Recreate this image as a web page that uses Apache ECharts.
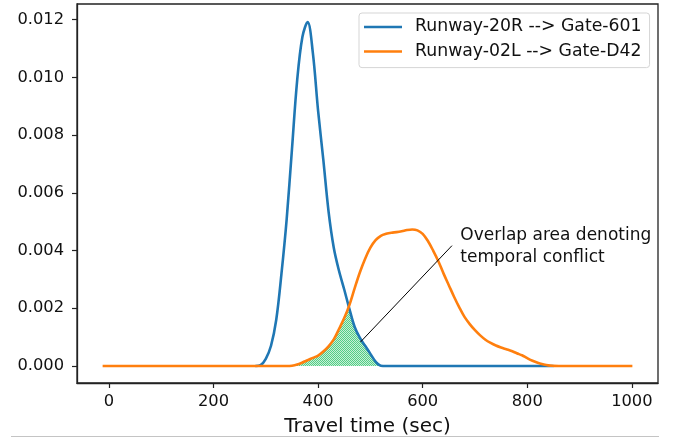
<!DOCTYPE html>
<html>
<head>
<meta charset="utf-8">
<script src="https://cdn.jsdelivr.net/npm/echarts@6/dist/echarts.min.js"></script>
<style>html,body{margin:0;padding:0;background:#fff}#c{width:681px;height:440px}</style>
</head>
<body>
<div id="c"></div>
<script>
// ---- data ----
const seriesNames = ['Runway-20R --> Gate-601', 'Runway-02L --> Gate-D42'];
const blueX = [280,290,300,310,320,330,340,350,360,370,380,390,400,410,420,430,440,450,460,470,480,490,500,510,520,530,850];
const blueY = [0,0.00003,0.00025,0.0007,0.0016,0.0032,0.0051,0.0075,0.0099,0.0114,0.01192,0.01085,0.00885,0.00715,0.00536,0.0041,0.0033,0.00265,0.00197,0.00135,0.00097,0.0007,0.00042,0.00015,0.00001,0,0];
const orangeX = [-12,340,350,360,370,380,390,400,410,420,430,440,450,460,470,480,490,500,510,520,530,540,550,560,570,580,590,600,610,620,630,640,650,660,670,680,690,700,710,720,730,740,750,760,770,780,790,800,810,820,830,840,850,860,1001];
const orangeY = [0,0,0.00001,0.00005,0.00012,0.0002,0.00028,0.00036,0.0005,0.00068,0.00092,0.00128,0.00166,0.00212,0.0027,0.00325,0.00372,0.0041,0.00436,0.00451,0.00458,0.00462,0.00464,0.00467,0.00471,0.00473,0.0047,0.00458,0.00433,0.004,0.00363,0.0032,0.0028,0.0024,0.00203,0.0017,0.00145,0.00124,0.00106,0.00091,0.0008,0.00071,0.00064,0.00058,0.00052,0.00044,0.00037,0.00027,0.00018,0.00011,0.00006,0.00002,0.000005,0,0];
const xTicks = [0,200,400,600,800,1000];
const yTicks = [0,0.002,0.004,0.006,0.008,0.010,0.012];
const xAxisTitle = 'Travel time (sec)';
const annotationText = 'Overlap area denoting\ntemporal conflict';
const annotationArrow = [[656, 0.00417], [481, 0.00083]];
const annotationTextAt = [672, 0.00415];

// ---- build ----
const blue = blueX.map((x, i) => [x, blueY[i]]);
const orange = orangeX.map((x, i) => [x, orangeY[i]]);
const orangeMap = {};
orangeX.forEach((x, i) => { orangeMap[x] = orangeY[i]; });
const overlap = [];
blueX.forEach((x, i) => {
  if (x in orangeMap && x <= 530) overlap.push([x, Math.min(blueY[i], orangeMap[x])]);
});

const pat = document.createElement('canvas');
pat.width = 2; pat.height = 2;
const pc = pat.getContext('2d');
pc.fillStyle = '#c8f0d6'; pc.fillRect(0, 0, 2, 2);
pc.fillStyle = '#52cd86'; pc.fillRect(0, 0, 1, 1); pc.fillRect(1, 1, 1, 1);

const FONT = 'DejaVu Sans';
const chart = echarts.init(document.getElementById('c'), null, {renderer: 'canvas'});
chart.setOption({
  animation: false,
  backgroundColor: '#fff',
  textStyle: {fontFamily: FONT},
  grid: {left: 77, right: 23, top: 4, bottom: 57, containLabel: false, outerBoundsMode: 'none',
         show: true, borderColor: '#222', borderWidth: 1.3, backgroundColor: 'transparent'},
  legend: {
    data: seriesNames,
    orient: 'vertical',
    left: 359, top: 13,
    padding: [4, 8, 6, 5],
    itemGap: 4.6,
    itemWidth: 38, itemHeight: 2.5,
    icon: 'rect',
    selectedMode: false,
    borderColor: '#d5d5d5', borderWidth: 1, borderRadius: 3,
    backgroundColor: 'rgba(255,255,255,0.8)',
    textStyle: {fontFamily: FONT, fontSize: 17.3, color: '#111', lineHeight: 20, padding: [0, 0, 0, 8]}
  },
  xAxis: {
    type: 'value', min: -61, max: 1050,
    name: xAxisTitle, nameLocation: 'middle', nameGap: 34,
    nameTextStyle: {fontFamily: FONT, fontSize: 20, color: '#111'},
    axisLine: {show: true, onZero: false, lineStyle: {color: '#222', width: 1.3}},
    axisTick: {show: true, length: 5, inside: false, customValues: xTicks, lineStyle: {color: '#222', width: 1.2}},
    axisLabel: {customValues: xTicks, margin: 11, fontSize: 16.3, color: '#111', fontFamily: FONT, formatter: v => String(v)},
    splitLine: {show: false}
  },
  yAxis: {
    type: 'value', min: -0.00059, max: 0.012545,
    axisLine: {show: true, onZero: false, lineStyle: {color: '#222', width: 1.3}},
    axisTick: {show: true, length: 5, inside: false, customValues: yTicks, lineStyle: {color: '#222', width: 1.2}},
    axisLabel: {customValues: yTicks, margin: 13, fontSize: 16.3, color: '#111', fontFamily: FONT, formatter: v => v.toFixed(3)},
    splitLine: {show: false}
  },
  series: [
    {
      name: 'overlap', type: 'line', data: overlap, smooth: 0.35,
      symbol: 'none', lineStyle: {width: 0}, areaStyle: {color: {image: pat, repeat: 'repeat'}, opacity: 1, origin: 0},
      silent: true, z: 1,
      markLine: {
        silent: true, symbol: ['none', 'none'], label: {show: false},
        lineStyle: {color: '#000', width: 1, type: 'solid'},
        data: [[{coord: annotationArrow[0]}, {coord: annotationArrow[1]}]]
      }
    },
    {name: seriesNames[0], type: 'line', data: blue, smooth: 0.35, symbol: 'none', showSymbol: false,
     lineStyle: {color: '#1f77b4', width: 2.6}, itemStyle: {color: '#1f77b4'}, z: 3},
    {name: seriesNames[1], type: 'line', data: orange, smooth: 0.35, symbol: 'none', showSymbol: false,
     lineStyle: {color: '#ff7f0e', width: 2.6}, itemStyle: {color: '#ff7f0e'}, z: 4}
  ]
});
const tp = chart.convertToPixel({gridIndex: 0}, annotationTextAt);
chart.setOption({
  graphic: [
    {type: 'text', left: tp[0], top: tp[1] - 22, style: {text: annotationText, fontFamily: FONT, fontSize: 17, lineHeight: 22.3, fill: '#111'}, z: 10},
    {type: 'line', shape: {x1: 11, y1: 436.5, x2: 659, y2: 436.5}, style: {stroke: '#c4c4c4', lineWidth: 1}, z: 10}
  ]
});
</script>
</body>
</html>
